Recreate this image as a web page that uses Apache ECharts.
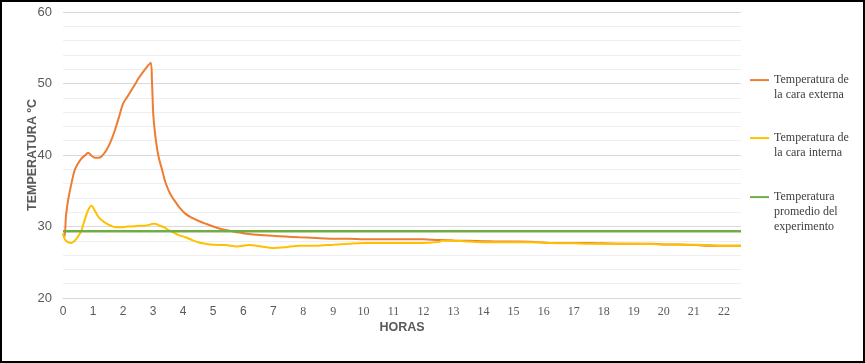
<!DOCTYPE html>
<html>
<head>
<meta charset="utf-8">
<script src="https://cdn.jsdelivr.net/npm/echarts@6/dist/echarts.min.js"></script>
<style>html,body{margin:0;padding:0;background:#fff;}#c{width:865px;height:363px;}</style>
</head>
<body>
<div id="c"></div>
<script>
const hours = [0, 0.05, 0.1, 0.17, 0.28, 0.39, 0.5, 0.61, 0.72, 0.84, 0.95, 1.06, 1.17, 1.28, 1.45, 1.6, 1.73, 1.87, 2.0, 2.15, 2.28, 2.4, 2.51, 2.7, 2.92, 2.96, 3.01, 3.1, 3.18, 3.3, 3.4, 3.51, 3.62, 3.75, 3.85, 4.07, 4.3, 4.5, 4.74, 5.0, 5.41, 5.8, 6.19, 6.6, 6.97, 7.4, 7.86, 8.4, 9.0, 9.53, 10.0, 10.5, 11, 11.5, 12, 12.54, 12.6, 13, 13.5, 14, 14.5, 15.1, 15.6, 16.2, 17, 17.5, 18, 18.8, 19.6, 20, 20.5, 21.1, 21.5, 22, 22.57];
const caraExterna = [29.0, 28.5, 31.5, 33.7, 36.0, 37.9, 38.8, 39.5, 39.9, 40.3, 39.9, 39.6, 39.6, 39.8, 40.7, 42.0, 43.5, 45.4, 47.2, 48.2, 49.1, 49.9, 50.7, 51.8, 52.9, 50.5, 45.4, 41.8, 39.8, 37.9, 36.3, 35.1, 34.2, 33.4, 32.8, 31.8, 31.2, 30.8, 30.4, 30.0, 29.5, 29.2, 28.95, 28.8, 28.7, 28.6, 28.5, 28.4, 28.3, 28.3, 28.2, 28.2, 28.2, 28.2, 28.2, 28.1, 28.1, 28.05, 28.0, 27.95, 27.9, 27.9, 27.85, 27.7, 27.7, 27.7, 27.65, 27.6, 27.6, 27.5, 27.5, 27.4, 27.3, 27.3, 27.3];
const caraInterna = [29.0, 28.3, 28.0, 27.8, 27.7, 28.0, 28.6, 29.4, 30.9, 32.3, 32.9, 32.2, 31.4, 30.9, 30.4, 30.1, 29.9, 29.9, 29.9, 30.0, 30.0, 30.05, 30.1, 30.1, 30.3, 30.35, 30.4, 30.35, 30.2, 30.0, 29.8, 29.5, 29.3, 29.0, 28.8, 28.5, 28.1, 27.8, 27.6, 27.45, 27.4, 27.2, 27.4, 27.2, 27.0, 27.1, 27.3, 27.3, 27.45, 27.6, 27.7, 27.7, 27.7, 27.7, 27.7, 27.85, 28.0, 28.0, 27.9, 27.8, 27.8, 27.8, 27.8, 27.7, 27.65, 27.6, 27.6, 27.6, 27.55, 27.5, 27.5, 27.45, 27.4, 27.3, 27.3];
const promedioHoras = [0, 22.57];
const promedio = [29.35, 29.35];
const seriesNames = ['Temperatura de\nla cara externa', 'Temperatura de\nla cara interna', 'Temperatura\npromedio del\nexperimento'];
const yTicks = [20, 30, 40, 50, 60];

const zip = (xs, ys) => xs.map((x, i) => [x, ys[i]]);

function legendFor(name, lines, top) {
  const h = lines * 15;
  return {
    orient: 'vertical', left: 750, top: top, itemWidth: 19, itemHeight: h, padding: 0,
    icon: 'path://M0,0 L0,0 M0,6.6 L19,6.6 L19,8.6 L0,8.6 Z M0,' + h + ' L0,' + h,
    textStyle: {fontFamily: 'Liberation Serif', fontSize: 12, color: '#404040', lineHeight: 15},
    data: [name]
  };
}

const chart = echarts.init(document.getElementById('c'));
chart.setOption({
  animation: false,
  backgroundColor: '#fff',
  graphic: [{
    type: 'rect', shape: {x: 1, y: 1, width: 863, height: 361},
    style: {fill: 'none', stroke: '#000', lineWidth: 2}, silent: true
  }],
  grid: {left: 63, right: 124, top: 12, bottom: 65, containLabel: false},
  legend: [
    legendFor(seriesNames[0], 2, 72.5),
    legendFor(seriesNames[1], 2, 130.5),
    legendFor(seriesNames[2], 3, 189.5)
  ],
  xAxis: {
    type: 'value', min: 0, max: 22.57, interval: 1,
    name: 'HORAS', nameLocation: 'middle', nameGap: 23, nameMoveOverlap: false,
    nameTextStyle: {fontFamily: 'Liberation Sans', fontWeight: 'bold', fontSize: 12.5, color: '#595959'},
    axisLine: {show: true, lineStyle: {color: '#d9d9d9'}},
    axisTick: {show: false},
    splitLine: {show: false},
    axisLabel: {
      showMaxLabel: false, margin: 8,
      formatter: v => (Number.isInteger(v) ? (v <= 7 ? '{s|' + v + '}' : '{r|' + v + '}') : ''),
      rich: {
        s: {fontFamily: 'Liberation Sans', fontSize: 12, color: '#595959'},
        r: {fontFamily: 'Liberation Serif', fontSize: 12, color: '#595959'}
      }
    }
  },
  yAxis: {
    type: 'value', min: yTicks[0], max: yTicks[yTicks.length - 1], interval: 10,
    name: 'TEMPERATURA ºC', nameLocation: 'middle', nameGap: 24, nameRotate: 90, nameMoveOverlap: false,
    nameTextStyle: {fontFamily: 'Liberation Sans', fontWeight: 'bold', fontSize: 12.5, color: '#595959'},
    axisLine: {show: false}, axisTick: {show: false},
    axisLabel: {fontFamily: 'Liberation Sans', fontSize: 13, color: '#595959', margin: 11},
    splitLine: {show: true, lineStyle: {color: '#d9d9d9', width: 1}},
    minorTick: {show: false, splitNumber: 5},
    minorSplitLine: {show: true, lineStyle: {color: '#efefef', width: 1}}
  },
  series: [
    {name: seriesNames[0], type: 'line', data: zip(hours, caraExterna), showSymbol: false, symbol: 'none', smooth: 0.3,
     lineStyle: {color: '#ED7D31', width: 2}, itemStyle: {color: '#ED7D31'}},
    {name: seriesNames[1], type: 'line', data: zip(hours, caraInterna), showSymbol: false, symbol: 'none', smooth: 0.3,
     lineStyle: {color: '#FFC000', width: 2}, itemStyle: {color: '#FFC000'}},
    {name: seriesNames[2], type: 'line', data: zip(promedioHoras, promedio), showSymbol: false, symbol: 'none',
     lineStyle: {color: '#70AD47', width: 2.5}, itemStyle: {color: '#70AD47'}}
  ]
});
</script>
</body>
</html>
